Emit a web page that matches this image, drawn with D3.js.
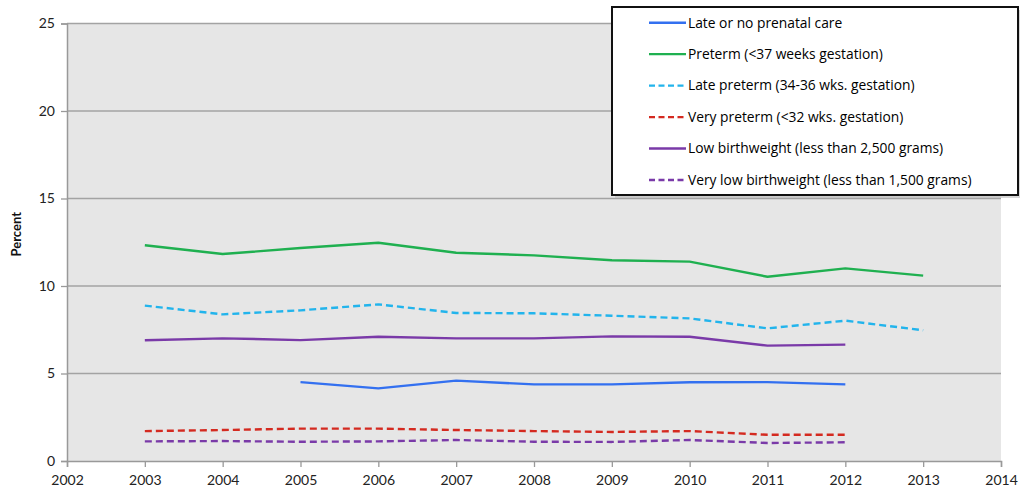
<!DOCTYPE html>
<html>
<head>
<meta charset="utf-8">
<script src="https://cdn.jsdelivr.net/npm/d3@7"></script>
<style>
  html, body { margin: 0; padding: 0; background: #fff; }
  svg { display: block; }
</style>
</head>
<body>
<svg id="chart" width="1020" height="493"></svg>
<script>
// Birth outcome indicators, percent of births by year
const years = [2003, 2004, 2005, 2006, 2007, 2008, 2009, 2010, 2011, 2012, 2013];
const lateCare      = [null, null, 4.51, 4.15, 4.59, 4.38, 4.38, 4.50, 4.51, 4.38, null];
const preterm       = [12.33, 11.83, 12.17, 12.47, 11.90, 11.75, 11.47, 11.39, 10.53, 11.01, 10.59];
const latePreterm   = [8.88, 8.38, 8.61, 8.95, 8.46, 8.44, 8.30, 8.15, 7.58, 8.02, 7.47];
const veryPreterm   = [1.71, 1.77, 1.85, 1.85, 1.77, 1.71, 1.66, 1.71, 1.50, 1.50, null];
const lowBirth      = [6.90, 7.01, 6.91, 7.10, 7.01, 7.01, 7.12, 7.10, 6.59, 6.65, null];
const veryLowBirth  = [1.12, 1.14, 1.10, 1.12, 1.20, 1.10, 1.09, 1.20, 1.03, 1.07, null];

const seriesNames = [
  "Late or no prenatal care",
  "Preterm (<37 weeks gestation)",
  "Late preterm (34-36 wks. gestation)",
  "Very preterm (<32 wks. gestation)",
  "Low birthweight (less than 2,500 grams)",
  "Very low birthweight (less than 1,500 grams)"
];
const seriesValues = [lateCare, preterm, latePreterm, veryPreterm, lowBirth, veryLowBirth];
const seriesColors = ["#3370f0", "#1fb050", "#22b4ec", "#d42a20", "#7a3aa8", "#7a3aa8"];
const seriesDashed = [false, false, true, true, false, true];

const xTicks = [2002, 2003, 2004, 2005, 2006, 2007, 2008, 2009, 2010, 2011, 2012, 2013, 2014];
const yTicks = [0, 5, 10, 15, 20, 25];

const axisFont = "Lato, 'Open Sans', sans-serif";
const legendFont = "'Open Sans', Lato, sans-serif";

const svg = d3.select("#chart");
const plot = { left: 67, right: 1001, top: 23.5, bottom: 461 };

const x = d3.scaleLinear().domain([2002, 2014]).range([plot.left, plot.right]);
const y = d3.scaleLinear().domain([0, 25]).range([plot.bottom, plot.top]);

// plot background
svg.append("rect")
  .attr("x", plot.left).attr("y", plot.top)
  .attr("width", plot.right - plot.left).attr("height", plot.bottom - plot.top)
  .attr("fill", "#e6e6e6");

// horizontal gridlines
svg.append("g")
  .selectAll("line")
  .data(yTicks.filter(d => d > 0))
  .join("line")
  .attr("x1", plot.left).attr("x2", plot.right)
  .attr("y1", d => y(d)).attr("y2", d => y(d))
  .attr("stroke", "#a3a3a3").attr("stroke-width", 1.3);

// y axis
const yAxis = svg.append("g")
  .attr("transform", `translate(${plot.left},0)`)
  .call(d3.axisLeft(y).tickValues(yTicks).tickSize(6).tickPadding(6).tickFormat(d3.format("d")));
yAxis.select(".domain").attr("stroke", "#999").attr("stroke-width", 1.5);
yAxis.selectAll(".tick line").attr("stroke", "#999").attr("stroke-width", 1.3);
yAxis.selectAll(".tick text")
  .style("font-family", axisFont)
  .style("font-size", "14px").attr("fill", "#222");

// x axis
const xAxis = svg.append("g")
  .attr("transform", `translate(0,${plot.bottom})`)
  .call(d3.axisBottom(x).tickValues(xTicks).tickSize(6).tickPadding(8).tickFormat(d3.format("d")));
xAxis.select(".domain").attr("stroke", "#999").attr("stroke-width", 1.5);
xAxis.selectAll(".tick line").attr("stroke", "#999").attr("stroke-width", 1.3);
xAxis.selectAll(".tick text")
  .style("font-family", axisFont)
  .style("font-size", "14px").attr("fill", "#222");

// y axis title
svg.append("text")
  .attr("transform", `translate(21,${(plot.top + plot.bottom) / 2 - 8}) rotate(-90)`)
  .attr("text-anchor", "middle")
  .style("font-family", axisFont)
  .style("font-size", "13px").style("font-weight", "bold").attr("fill", "#111")
  .text("Percent");

// series lines
const line = d3.line()
  .defined(d => d.v != null)
  .x(d => x(d.year))
  .y(d => y(d.v));

seriesValues.forEach((vals, i) => {
  const pts = years.map((yr, j) => ({ year: yr, v: vals[j] }));
  svg.append("path")
    .datum(pts)
    .attr("d", line)
    .attr("fill", "none")
    .attr("stroke", seriesColors[i])
    .attr("stroke-width", 2.4)
    .attr("stroke-dasharray", seriesDashed[i] ? "7,4" : null)
    .attr("stroke-linejoin", "round");
});

// legend
const lg = { x: 612, y: 7, w: 406, h: 188 };
svg.append("rect")
  .attr("x", lg.x + 3).attr("y", lg.y + 3)
  .attr("width", lg.w).attr("height", lg.h)
  .attr("fill", "#bbb").attr("opacity", 0.6);
svg.append("rect")
  .attr("x", lg.x).attr("y", lg.y)
  .attr("width", lg.w).attr("height", lg.h)
  .attr("fill", "#fff").attr("stroke", "#111").attr("stroke-width", 2);

const legendRow = d3.scalePoint().domain(d3.range(seriesNames.length)).range([22.7, 180]);
const legend = svg.append("g");
seriesNames.forEach((name, i) => {
  const ly = legendRow(i);
  legend.append("line")
    .attr("x1", 649).attr("x2", 686)
    .attr("y1", ly).attr("y2", ly)
    .attr("stroke", seriesColors[i]).attr("stroke-width", 2.4)
    .attr("stroke-dasharray", seriesDashed[i] ? "6,3.5" : null);
  legend.append("text")
    .attr("x", 688).attr("y", ly)
    .attr("dy", "0.35em")
    .style("font-family", legendFont)
    .style("font-size", "13.8px").attr("fill", "#000")
    .text(name);
});
</script>
</body>
</html>
